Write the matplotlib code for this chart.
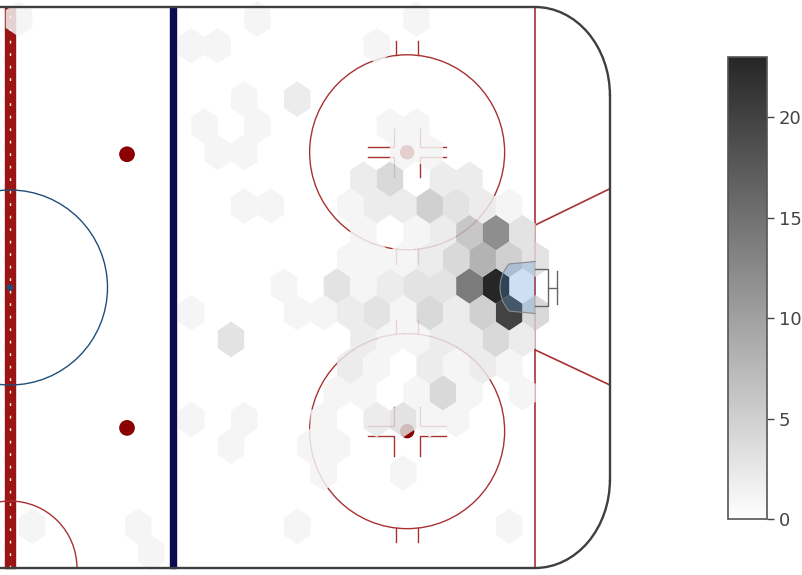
"""
Offensive-zone shot density on a hockey rink (hexbin)
"""
import matplotlib
matplotlib.use('Agg')
import matplotlib.pyplot as plt
import numpy as np
from matplotlib import font_manager
from matplotlib.patches import Rectangle, Circle, Arc, Polygon

# shot locations (feet from centre ice) and number of shots at each spot
shot_x = [1.4, 38.1, 62.5,
          27.9, 32.0, 56.4,
          36.0, 44.2,
          29.9, 38.1, 58.5, 62.5,
          32.0, 36.0, 60.5, 64.6,
          54.4, 58.5, 66.6, 70.7,
          36.0, 40.1, 52.4, 56.4, 60.5, 64.6, 68.7, 72.7, 76.8,
          54.4, 62.5, 66.6, 70.7, 74.8, 78.8,
          52.4, 56.4, 60.5, 64.6, 68.7, 72.7, 76.8, 80.9,
          42.2, 50.3, 54.4, 58.5, 62.5, 66.6, 70.7, 74.8,
          27.9, 44.2, 48.3, 52.4, 56.4, 60.5, 64.6, 68.7, 72.7, 76.8, 80.9,
          34.0, 54.4, 58.5, 62.5, 66.6, 70.7, 74.8, 78.8,
          52.4, 56.4, 64.6, 68.7, 72.7, 76.8,
          50.3, 54.4, 62.5, 66.6, 70.7, 78.8,
          27.9, 36.0, 48.3, 56.4, 60.5, 64.6, 68.7,
          34.0, 46.2, 50.3,
          48.3, 60.5,
          3.4, 19.7, 44.2, 76.8,
          21.8]
shot_y = [41.3, 41.3, 41.3,
          37.2, 37.2, 37.2,
          29.0, 29.0,
          24.9, 24.9, 24.9, 24.9,
          20.8, 20.8, 20.8, 20.8,
          16.7, 16.7, 16.7, 16.7,
          12.5, 12.5, 12.5, 12.5, 12.5, 12.5, 12.5, 12.5, 12.5,
          8.4, 8.4, 8.4, 8.4, 8.4, 8.4,
          4.3, 4.3, 4.3, 4.3, 4.3, 4.3, 4.3, 4.3,
          0.2, 0.2, 0.2, 0.2, 0.2, 0.2, 0.2, 0.2,
          -3.9, -3.9, -3.9, -3.9, -3.9, -3.9, -3.9, -3.9, -3.9, -3.9, -3.9,
          -8.0, -8.0, -8.0, -8.0, -8.0, -8.0, -8.0, -8.0,
          -12.1, -12.1, -12.1, -12.1, -12.1, -12.1,
          -16.2, -16.2, -16.2, -16.2, -16.2, -16.2,
          -20.3, -20.3, -20.3, -20.3, -20.3, -20.3, -20.3,
          -24.4, -24.4, -24.4,
          -28.5, -28.5,
          -36.7, -36.7, -36.7, -36.7,
          -40.8]
shots = [1, 1, 1,
         1, 1, 1,
         1, 2,
         1, 1, 1, 1,
         1, 1, 1, 1,
         2, 4, 2, 2,
         1, 1, 1, 2, 2, 5, 3, 2, 1,
         1, 1, 2, 6, 12, 3,
         1, 1, 1, 2, 4, 8, 5, 3,
         1, 3, 1, 2, 3, 3, 14, 23,
         1, 1, 1, 2, 3, 1, 4, 2, 5, 20, 4,
         3, 2, 1, 1, 2, 2, 4, 2,
         2, 1, 2, 1, 2, 1,
         1, 1, 1, 4, 1, 1,
         1, 1, 1, 2, 3, 1, 1,
         1, 1, 1,
         1, 1,
         1, 1, 1, 1,
         1]
cbar_ticks = [0, 5, 10, 15, 20]

RED = '#a83232'
DOT_RED = '#8b0000'
HALF_W = 43.15


def faceoff_circle(ax, cx, cy):
    ax.add_patch(Circle((cx, cy), 15, fill=False, ec=RED, lw=1.0, zorder=1))
    ax.add_patch(Circle((cx, cy), 1.0, color=DOT_RED, zorder=1))
    edge = np.sqrt(15 ** 2 - 1.65 ** 2)
    for dx in (-1.65, 1.65):
        for s in (1, -1):
            ax.plot([cx + dx, cx + dx], [cy + s * edge, cy + s * (edge + 2.2)],
                    color=RED, lw=1.0, zorder=1)
    for sx in (-1, 1):
        for sy in (-1, 1):
            ax.plot([cx + sx * 6, cx + sx * 2, cx + sx * 2],
                    [cy + sy * 0.75, cy + sy * 0.75, cy + sy * 3.75],
                    color=RED, lw=1.0, zorder=1)


def draw_rink(ax):
    goal_x, end_x = 80.8, 92.3
    rx, ry = 11.5, 13.6
    # centre red line with white dashes
    ax.add_patch(Rectangle((-0.77, -HALF_W), 1.54, 2 * HALF_W, color='#9b1414', zorder=1))
    ax.plot([0, 0], [-HALF_W, HALF_W], color='white', lw=1.0, dashes=(2, 7), zorder=1)
    ax.add_patch(Circle((0, 0), 15, fill=False, ec='#1f4e79', lw=1.0, zorder=1))
    ax.add_patch(Circle((0, 0), 0.4, color='#1f4e79', zorder=1))
    ax.add_patch(Arc((0, -HALF_W), 20.6, 20.6, theta1=0, theta2=180, ec=RED, lw=1.0, zorder=1))
    # blue line and neutral zone dots
    ax.add_patch(Rectangle((24.6, -HALF_W), 0.95, 2 * HALF_W, color='#0b0b50', zorder=1))
    ax.add_patch(Circle((18.0, 20.5), 1.1, color=DOT_RED, zorder=1))
    ax.add_patch(Circle((18.0, -21.6), 1.1, color=DOT_RED, zorder=1))
    faceoff_circle(ax, 61.1, 20.8)
    faceoff_circle(ax, 61.1, -22.1)
    # goal line and trapezoid
    ax.plot([goal_x, goal_x], [-HALF_W, HALF_W], color=RED, lw=1.2, zorder=1)
    ax.plot([goal_x, end_x], [9.6, 15.2], color=RED, lw=1.2, zorder=1)
    ax.plot([goal_x, end_x], [-9.6, -15.0], color=RED, lw=1.2, zorder=1)
    # crease (drawn above the shots)
    t = np.linspace(np.arcsin(4 / 5.4), np.pi - np.arcsin(4 / 5.4), 40)
    cx = np.concatenate([[goal_x], goal_x - 5.4 * np.sin(t), [goal_x]])
    cy = np.concatenate([[4.0], 5.4 * np.cos(t), [-4.0]])
    ax.add_patch(Polygon(np.column_stack([cx, cy]), closed=False, fc='#4f8fd6',
                         alpha=0.28, ec='none', zorder=3))
    ax.plot(cx, cy, color='#8a8a8a', lw=0.8, zorder=4)
    # net
    ax.plot([goal_x, 82.8, 82.8, goal_x], [2.9, 2.9, -2.9, -2.9], color='#666666', lw=1.0, zorder=4)
    ax.plot([82.8, 84.1], [0, 0], color='#666666', lw=1.0, zorder=4)
    ax.plot([84.1, 84.1], [2.5, -2.5], color='#666666', lw=1.0, zorder=4)
    # boards
    bc = '#3f3f3f'
    ax.plot([-5, goal_x], [HALF_W, HALF_W], color=bc, lw=1.7, zorder=4)
    ax.plot([-5, goal_x], [-HALF_W, -HALF_W], color=bc, lw=1.7, zorder=4)
    ax.add_patch(Arc((goal_x, HALF_W - ry), 2 * rx, 2 * ry, theta1=0, theta2=90, ec=bc, lw=1.7, zorder=4))
    ax.add_patch(Arc((goal_x, -HALF_W + ry), 2 * rx, 2 * ry, theta1=270, theta2=360, ec=bc, lw=1.7, zorder=4))
    ax.plot([end_x, end_x], [-HALF_W + ry, HALF_W - ry], color=bc, lw=1.7, zorder=4)


fig = plt.figure(figsize=(8.02, 5.75), dpi=100)
ax = fig.add_axes([0, 0, 620 / 802, 1])
draw_rink(ax)

hb = ax.hexbin(shot_x, shot_y, C=shots, reduce_C_function=np.sum,
               gridsize=(23, 10), extent=(1.38, 95.15, -40.85, 41.3),
               cmap='binary', vmin=0, vmax=23, alpha=0.85, linewidths=0, zorder=2)

ax.set_xlim(-1.54, 93.85)
ax.set_ylim(-44.23, 44.23)
ax.axis('off')

# narrow font for the colorbar labels if there is one
names = {f.name for f in font_manager.fontManager.ttflist}
if 'Liberation Sans Narrow' in names:
    tick_font, tick_size = 'Liberation Sans Narrow', 16
else:
    tick_font, tick_size = 'DejaVu Sans', 13

cax = fig.add_axes([728 / 802, 56 / 575, 39 / 802, 462 / 575])
cb = fig.colorbar(hb, cax=cax, ticks=cbar_ticks)
cb.outline.set_edgecolor('#555555')
cb.outline.set_linewidth(1.2)
cax.tick_params(length=5, width=1, colors='#444444', labelsize=tick_size)
for lab in cax.get_yticklabels():
    lab.set_family(tick_font)

fig.savefig('out.png', dpi=100)
